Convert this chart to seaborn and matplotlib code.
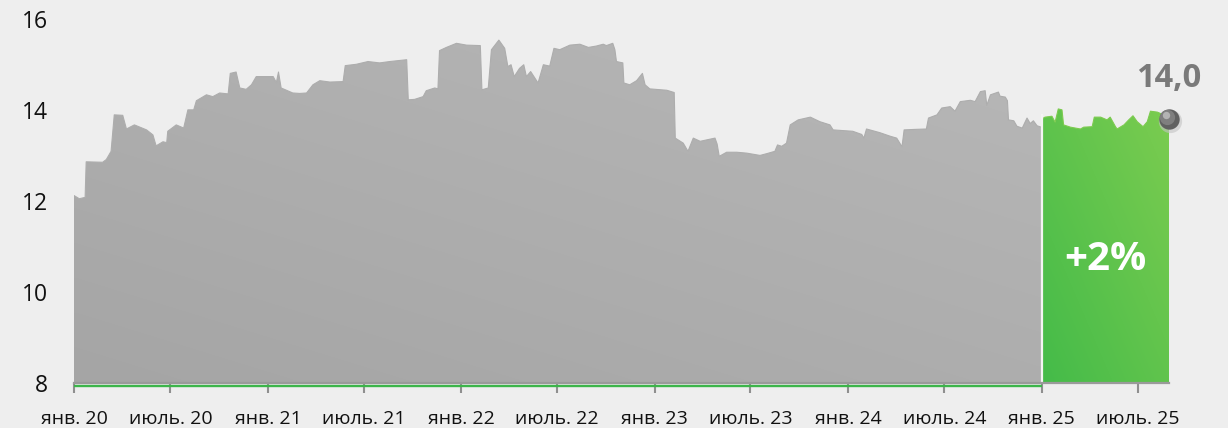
import numpy as np
import pandas as pd
import matplotlib
matplotlib.use("Agg")
import matplotlib.pyplot as plt
import matplotlib.dates as mdates
import matplotlib.transforms as mtransforms
import seaborn as sns

# ---------------- data ----------------
gray_dates = [
    "2020-01-01", "2020-01-11", "2020-01-22", "2020-01-24", "2020-02-24", "2020-03-02",
    "2020-03-11", "2020-03-17", "2020-04-02", "2020-04-09", "2020-04-24", "2020-05-17",
    "2020-05-29", "2020-06-04", "2020-06-17", "2020-06-24", "2020-06-26", "2020-07-12",
    "2020-07-26", "2020-08-03", "2020-08-14", "2020-08-19", "2020-09-07", "2020-09-19",
    "2020-10-02", "2020-10-18", "2020-10-22", "2020-11-02", "2020-11-09", "2020-11-21",
    "2020-12-01", "2020-12-10", "2021-01-11", "2021-01-17", "2021-01-21", "2021-01-26",
    "2021-02-17", "2021-03-02", "2021-03-15", "2021-03-27", "2021-04-09", "2021-04-28",
    "2021-05-23", "2021-05-27", "2021-06-17", "2021-07-09", "2021-07-31", "2021-08-19",
    "2021-09-20", "2021-09-23", "2021-10-05", "2021-10-21", "2021-10-27", "2021-11-12",
    "2021-11-18", "2021-11-21", "2021-12-04", "2021-12-23", "2022-01-11", "2022-02-06",
    "2022-02-09", "2022-02-21", "2022-02-27", "2022-03-13", "2022-03-24", "2022-03-30",
    "2022-04-05", "2022-04-11", "2022-04-21", "2022-04-29", "2022-05-04", "2022-05-12",
    "2022-05-26", "2022-06-05", "2022-06-17", "2022-06-25", "2022-07-06", "2022-07-25",
    "2022-08-13", "2022-08-29", "2022-09-13", "2022-09-26", "2022-10-02", "2022-10-14",
    "2022-10-18", "2022-10-21", "2022-11-02", "2022-11-04", "2022-11-15", "2022-11-28",
    "2022-12-09", "2022-12-14", "2022-12-23", "2023-01-24", "2023-02-07", "2023-02-09",
    "2023-02-24", "2023-03-05", "2023-03-15", "2023-03-28", "2023-04-25", "2023-04-29",
    "2023-05-03", "2023-05-17", "2023-06-05", "2023-06-24", "2023-07-19", "2023-08-01",
    "2023-08-16", "2023-08-21", "2023-08-29", "2023-09-07", "2023-09-14", "2023-09-29",
    "2023-10-22", "2023-11-09", "2023-11-28", "2023-12-04", "2024-01-10", "2024-01-27",
    "2024-01-31", "2024-02-05", "2024-03-01", "2024-03-21", "2024-04-02", "2024-04-12",
    "2024-04-16", "2024-05-04", "2024-05-28", "2024-06-01", "2024-06-17", "2024-06-26",
    "2024-07-12", "2024-07-21", "2024-07-31", "2024-08-19", "2024-08-28", "2024-09-07",
    "2024-09-16", "2024-09-19", "2024-09-26", "2024-10-11", "2024-10-14", "2024-10-24",
    "2024-10-28", "2024-10-30", "2024-11-09", "2024-11-15", "2024-11-25", "2024-12-04",
    "2024-12-10", "2024-12-16", "2024-12-23", "2024-12-31",
]
gray_values = [
    12.12, 12.05, 12.08, 12.86, 12.85, 12.91,
    13.09, 13.89, 13.88, 13.58, 13.67, 13.56,
    13.45, 13.21, 13.30, 13.28, 13.53, 13.67,
    13.60, 14.00, 14.00, 14.20, 14.33, 14.29,
    14.37, 14.35, 14.80, 14.83, 14.48, 14.45,
    14.55, 14.73, 14.73, 14.60, 14.83, 14.48,
    14.37, 14.36, 14.37, 14.55, 14.64, 14.61,
    14.62, 14.97, 15.00, 15.06, 15.03, 15.06,
    15.10, 14.22, 14.23, 14.29, 14.42, 14.48,
    14.46, 15.30, 15.37, 15.46, 15.42, 15.41,
    14.44, 14.48, 15.32, 15.53, 15.35, 14.95,
    14.99, 14.73, 14.91, 14.99, 14.73, 14.84,
    14.59, 14.99, 14.96, 15.35, 15.32, 15.42,
    15.44, 15.37, 15.40, 15.44, 15.41, 15.46,
    15.32, 15.06, 15.03, 14.59, 14.55, 14.64,
    14.80, 14.55, 14.46, 14.43, 14.38, 13.38,
    13.27, 13.09, 13.38, 13.31, 13.38, 13.25,
    12.98, 13.07, 13.07, 13.05, 13.00, 13.04,
    13.09, 13.23, 13.20, 13.27, 13.67, 13.78,
    13.84, 13.74, 13.67, 13.56, 13.53, 13.46,
    13.38, 13.58, 13.50, 13.42, 13.38, 13.19,
    13.56, 13.57, 13.58, 13.82, 13.89, 14.04,
    14.07, 13.97, 14.18, 14.21, 14.18, 14.40,
    14.42, 14.10, 14.33, 14.39, 14.30, 14.28,
    14.20, 13.78, 13.76, 13.64, 13.60, 13.82,
    13.70, 13.76, 13.65, 13.62,
]

green_dates = [
    "2025-01-01", "2025-01-07", "2025-01-20", "2025-01-26", "2025-02-01", "2025-02-08",
    "2025-02-11", "2025-02-24", "2025-03-15", "2025-03-21", "2025-04-06", "2025-04-10",
    "2025-04-22", "2025-05-04", "2025-05-10", "2025-05-20", "2025-05-23", "2025-06-05",
    "2025-06-14", "2025-06-22", "2025-06-30", "2025-07-11", "2025-07-19", "2025-07-25",
    "2025-08-07", "2025-08-19", "2025-08-29",
]
green_values = [
    13.80, 13.84, 13.86, 13.73, 14.02, 14.00,
    13.67, 13.62, 13.58, 13.62, 13.63, 13.84,
    13.84, 13.78, 13.84, 13.63, 13.58, 13.67,
    13.78, 13.87, 13.74, 13.63, 13.74, 13.97,
    13.95, 13.89, 13.80,
]

tick_dates = ["2020-01-01", "2020-07-01", "2021-01-01", "2021-07-01", "2022-01-01",
              "2022-07-01", "2023-01-01", "2023-07-01", "2024-01-01", "2024-07-01",
              "2025-01-01", "2025-07-01"]
tick_labels = ["янв. 20", "июль. 20", "янв. 21", "июль. 21", "янв. 22", "июль. 22",
               "янв. 23", "июль. 23", "янв. 24", "июль. 24", "янв. 25", "июль. 25"]
y_ticks = [8, 10, 12, 14, 16]
last_label = "14,0"
change_label = "+2%"

# ---------------- style ----------------
sns.set_theme(style="white")
plt.rcParams["font.family"] = ["Open Sans", "DejaVu Sans"]

BG = "#eeeeee"
fig = plt.figure(figsize=(12.28, 4.28), dpi=100, facecolor=BG)
W, H = 1228, 428
ax = fig.add_axes([74 / W, (H - 383.3) / H, (1169 - 74) / W, (383.3 - 18.7) / H])
ax.set_facecolor("none")

gray = pd.DataFrame({"date": pd.to_datetime(gray_dates), "value": gray_values})
green = pd.DataFrame({"date": pd.to_datetime(green_dates), "value": green_values})

x0 = pd.Timestamp("2020-01-01")
x1 = pd.Timestamp(green_dates[-1])
ax.set_xlim(x0, x1)
ax.set_ylim(8, 16)

# outlines via seaborn
sns.lineplot(data=gray, x="date", y="value", ax=ax, color="#adadad", lw=0.8, zorder=3)
sns.lineplot(data=green, x="date", y="value", ax=ax, color="#7ccb4f", lw=0.8, zorder=3)


def gradient_fill(ax, df, c_bl, c_tr, z):
    poly = ax.fill_between(df["date"], 8, df["value"], color="none", lw=0, zorder=z)
    xa = mdates.date2num(df["date"].min())
    xb = mdates.date2num(df["date"].max())
    nx, ny = 200, 200
    gx = np.linspace(0, 1, nx)[None, :]
    gy = np.linspace(0, 1, ny)[:, None]
    t = np.clip(0.45 * gx + 0.55 * gy, 0, 1)
    c0 = np.array(matplotlib.colors.to_rgb(c_bl))
    c1 = np.array(matplotlib.colors.to_rgb(c_tr))
    img = c0[None, None, :] * (1 - t[..., None]) + c1[None, None, :] * t[..., None]
    im = ax.imshow(img, extent=[xa, xb, 8, 16], origin="lower", aspect="auto",
                   zorder=z, interpolation="bilinear")
    im.set_clip_path(poly.get_paths()[0], transform=ax.transData)
    return im


gradient_fill(ax, gray, "#a5a5a5", "#b8b8b8", 2)
gradient_fill(ax, green, "#44bb49", "#84cf51", 2)
ax.set_xlim(x0, x1)
ax.set_ylim(8, 16)

# white separator between 2024 and 2025
sep = pd.Timestamp("2025-01-01")
ax.plot([sep, sep], [8, 13.9], color="#f4f4f4", lw=1.6, zorder=4, solid_capstyle="butt")

# green baseline under the gray part
off = mtransforms.offset_copy(ax.transData, fig=fig, x=0, y=-2.6, units="dots")
ax.plot([x0, sep], [8, 8], color="#3cb54a", lw=1.7, transform=off, zorder=5,
        clip_on=False, solid_capstyle="butt")

# end marker (sphere)
lx, ly = pd.Timestamp(green_dates[-1]), green_values[-1]
sh = mtransforms.offset_copy(ax.transData, fig=fig, x=1.5, y=-2.0, units="dots")
ax.scatter([lx], [ly], s=280, color="#c4c4c4", alpha=0.6, lw=0, zorder=6, clip_on=False, transform=sh)
ax.scatter([lx], [ly], s=215, color="#616161", lw=0, zorder=7, clip_on=False)
hl1 = mtransforms.offset_copy(ax.transData, fig=fig, x=-1.5, y=1.5, units="dots")
ax.scatter([lx], [ly], s=120, color="#7f7f7f", lw=0, zorder=8, clip_on=False, transform=hl1)
hl2 = mtransforms.offset_copy(ax.transData, fig=fig, x=-2.5, y=3.5, units="dots")
ax.scatter([lx], [ly], s=28, color="#b3b3b3", lw=0, zorder=9, clip_on=False, transform=hl2)

# texts
ax.annotate(last_label, xy=(lx, ly), xytext=(0, 40), textcoords="offset pixels",
            ha="center", va="center", fontsize=23.5, fontweight="bold", color="#7a7a7a",
            zorder=10, annotation_clip=False)
mid = pd.Timestamp("2025-04-30")
ax.text(mid, 10.72, change_label, ha="center", va="center", fontsize=29,
        fontweight="bold", color="white", zorder=10)

# axes styling
for s in ["left", "top", "right"]:
    ax.spines[s].set_visible(False)
ax.spines["bottom"].set_color("#9a9a9a")
ax.spines["bottom"].set_linewidth(1.6)
ax.spines["bottom"].set_zorder(6)

ax.set_xticks(pd.to_datetime(tick_dates))
ax.set_xticklabels(tick_labels)
ax.set_yticks(y_ticks)
ax.set_yticklabels([str(v) for v in y_ticks])
ax.tick_params(axis="x", direction="out", length=7, width=1.5, color="#8f8f8f",
               pad=12, labelsize=14, labelcolor="#111111", bottom=True)
ax.tick_params(axis="y", length=0, pad=19, labelsize=16.5, labelcolor="#111111", left=False)
ax.set_xlabel("")
ax.set_ylabel("")
ax.grid(False)

fig.savefig("out.png", dpi=100, facecolor=BG)
